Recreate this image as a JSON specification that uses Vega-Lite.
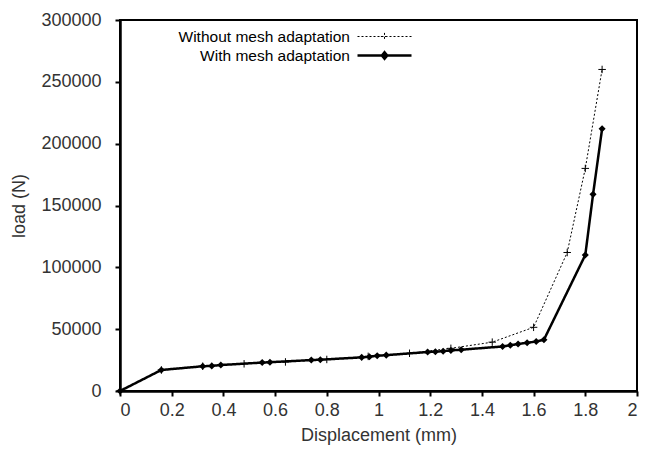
{
  "$schema": "https://vega.github.io/schema/vega-lite/v6.json",
  "width": 517,
  "height": 371,
  "autosize": {"type": "none"},
  "padding": {"left": 120, "top": 20, "right": 18, "bottom": 58},
  "background": "white",
  "config": {
    "view": {"stroke": "black", "strokeWidth": 2},
    "font": "Liberation Sans",
    "axis": {
      "domainColor": "black", "domainWidth": 2.5, "tickColor": "black", "tickWidth": 2, "tickSize": 5,
      "labelFont": "Liberation Sans", "labelFontSize": 18, "labelColor": "#333333",
      "titleFont": "Liberation Sans", "titleFontSize": 18, "titleFontWeight": "normal", "titleColor": "#333333",
      "grid": false
    }
  },
  "data": {"values": [
    {"series": "Without mesh adaptation", "d": 0, "load": 0},
    {"series": "Without mesh adaptation", "d": 0.16, "load": 17000},
    {"series": "Without mesh adaptation", "d": 0.32, "load": 20000},
    {"series": "Without mesh adaptation", "d": 0.48, "load": 22000},
    {"series": "Without mesh adaptation", "d": 0.64, "load": 23500},
    {"series": "Without mesh adaptation", "d": 0.80, "load": 25500},
    {"series": "Without mesh adaptation", "d": 0.96, "load": 28000},
    {"series": "Without mesh adaptation", "d": 1.12, "load": 30500},
    {"series": "Without mesh adaptation", "d": 1.28, "load": 34500},
    {"series": "Without mesh adaptation", "d": 1.44, "load": 39500},
    {"series": "Without mesh adaptation", "d": 1.60, "load": 51500},
    {"series": "Without mesh adaptation", "d": 1.73, "load": 112000},
    {"series": "Without mesh adaptation", "d": 1.80, "load": 180000},
    {"series": "Without mesh adaptation", "d": 1.865, "load": 260000},
    {"series": "With mesh adaptation", "d": 0, "load": 0},
    {"series": "With mesh adaptation", "d": 0.16, "load": 17000},
    {"series": "With mesh adaptation", "d": 0.32, "load": 20000},
    {"series": "With mesh adaptation", "d": 0.355, "load": 20300},
    {"series": "With mesh adaptation", "d": 0.39, "load": 21000},
    {"series": "With mesh adaptation", "d": 0.55, "load": 23000},
    {"series": "With mesh adaptation", "d": 0.58, "load": 23300},
    {"series": "With mesh adaptation", "d": 0.74, "load": 25000},
    {"series": "With mesh adaptation", "d": 0.775, "load": 25300},
    {"series": "With mesh adaptation", "d": 0.935, "load": 27200},
    {"series": "With mesh adaptation", "d": 0.965, "load": 27700},
    {"series": "With mesh adaptation", "d": 0.995, "load": 28500},
    {"series": "With mesh adaptation", "d": 1.03, "load": 29000},
    {"series": "With mesh adaptation", "d": 1.19, "load": 31500},
    {"series": "With mesh adaptation", "d": 1.22, "load": 31800},
    {"series": "With mesh adaptation", "d": 1.25, "load": 32200},
    {"series": "With mesh adaptation", "d": 1.28, "load": 32800},
    {"series": "With mesh adaptation", "d": 1.32, "load": 33400},
    {"series": "With mesh adaptation", "d": 1.48, "load": 36000},
    {"series": "With mesh adaptation", "d": 1.51, "load": 37000},
    {"series": "With mesh adaptation", "d": 1.54, "load": 38000},
    {"series": "With mesh adaptation", "d": 1.575, "load": 39000},
    {"series": "With mesh adaptation", "d": 1.61, "load": 40000},
    {"series": "With mesh adaptation", "d": 1.64, "load": 41500},
    {"series": "With mesh adaptation", "d": 1.80, "load": 110000},
    {"series": "With mesh adaptation", "d": 1.83, "load": 159000},
    {"series": "With mesh adaptation", "d": 1.865, "load": 212000}
  ]},
  "encoding": {
    "x": {"field": "d", "type": "quantitative", "title": "Displacement (mm)",
      "scale": {"domain": [0, 2], "nice": false},
      "axis": {"values": [0, 0.2, 0.4, 0.6, 0.8, 1, 1.2, 1.4, 1.6, 1.8, 2], "labelExpr": "'' + datum.value", "labelPadding": 5, "titlePadding": 7}},
    "y": {"field": "load", "type": "quantitative", "title": "load (N)",
      "scale": {"domain": [0, 300000], "nice": false},
      "axis": {"values": [0, 50000, 100000, 150000, 200000, 250000, 300000], "format": "d", "labelPadding": 14, "titlePadding": 12}}
  },
  "layer": [
    {
      "mark": {"type": "line", "color": "black"},
      "encoding": {
        "strokeDash": {"field": "series", "type": "nominal",
          "scale": {"domain": ["Without mesh adaptation", "With mesh adaptation"], "range": [[2, 2], [1, 0]]},
          "legend": {
            "title": null, "orient": "none", "legendX": 254, "legendY": 7, "padding": 0,
            "symbolSize": 324, "symbolStrokeColor": "black", "symbolFillColor": "black",
            "labelAlign": "right", "labelOffset": -45, "labelFontSize": 15.5, "labelColor": "black",
            "labelFont": "Liberation Sans", "labelLimit": 400, "rowPadding": 0,
            "encode": {"symbols": {"update": {
              "shape": {"signal": "datum.value === 'With mesh adaptation' ? 'M-3,0L3,0M0,-0.36L0.3,0L0,0.36L-0.3,0Z' : 'M-3,0L3,0M0,-0.4L0,0.4M-0.4,0L0.4,0'"},
              "stroke": {"value": "black"},
              "strokeOpacity": {"value": 1},
              "strokeWidth": {"signal": "datum.value === 'With mesh adaptation' ? 2.5 : 1"},
              "strokeDash": {"signal": "datum.value === 'With mesh adaptation' ? [1, 0] : [2, 2]"},
              "fill": {"signal": "datum.value === 'With mesh adaptation' ? 'black' : 'transparent'"},
              "opacity": {"value": 1}
            }}}
          }},
        "strokeWidth": {"field": "series", "type": "nominal",
          "scale": {"domain": ["Without mesh adaptation", "With mesh adaptation"], "range": [1, 2.5]},
          "legend": null}
      }
    },
    {
      "transform": [{"filter": "datum.series === 'Without mesh adaptation'"}],
      "mark": {"type": "point", "shape": "M-1,0L1,0M0,-1L0,1", "size": 56, "filled": false, "color": "black", "strokeWidth": 1, "opacity": 1}
    },
    {
      "transform": [{"filter": "datum.series === 'With mesh adaptation'"}],
      "mark": {"type": "point", "shape": "diamond", "size": 50, "filled": true, "color": "black", "opacity": 1}
    }
  ]
}
